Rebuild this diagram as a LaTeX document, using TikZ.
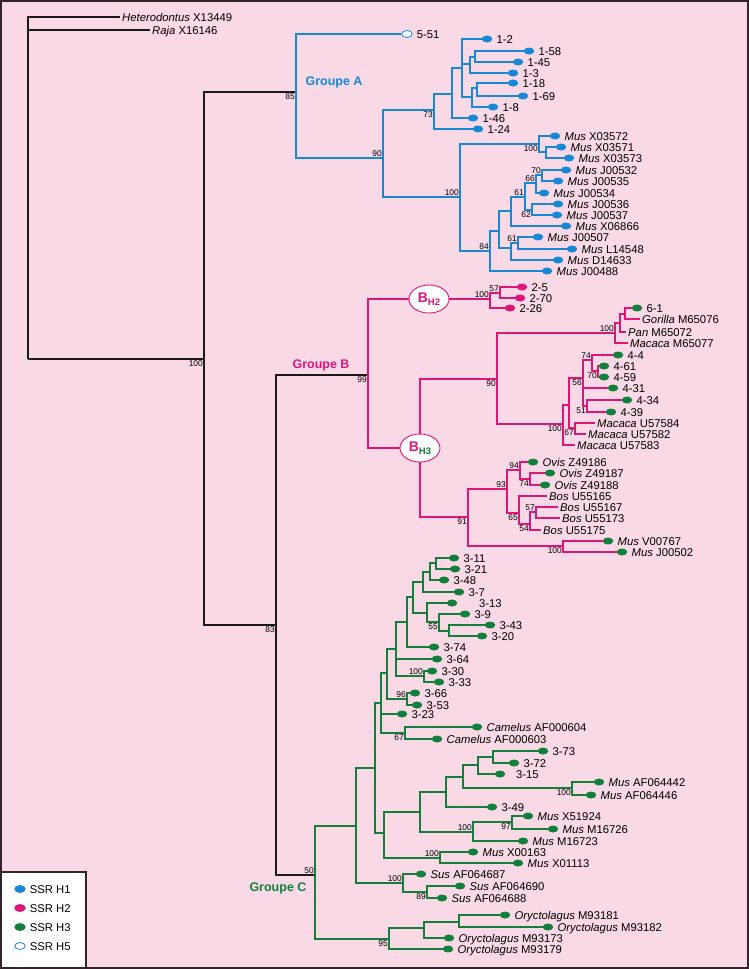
\documentclass[tikz,border=0pt]{standalone}
\usepackage{fontspec}
\setmainfont{Liberation Sans}
\usetikzlibrary{shapes.geometric}
\definecolor{bgpink}{RGB}{249,217,230}
\definecolor{cA}{RGB}{22,136,214}
\definecolor{cB}{RGB}{222,22,122}
\definecolor{cC}{RGB}{18,128,58}
\definecolor{frame}{RGB}{50,35,45}

\begin{document}
\begin{tikzpicture}[x=1pt,y=-1pt,
    lK/.style={draw=black!90, line width=1.6pt},
    lA/.style={draw=cA, line width=1.3pt},
    lB/.style={draw=cB, line width=1.3pt},
    lC/.style={draw=cC, line width=1.3pt},
    lab/.style={font=\fontsize{11.3}{12}\selectfont, inner xsep=4pt, inner ysep=0pt, text height=8.1pt, text depth=0pt},
    tl/.style={font=\fontsize{11.3}{12}\selectfont, inner xsep=2pt, inner ysep=0pt, text height=8.1pt, text depth=0pt, anchor=west},
    bs/.style={font=\fontsize{8.4}{9}\selectfont, inner sep=1pt, text height=6pt, text depth=0pt},
    bsa/.style={label={[bs]above left:#1}},
    bsb/.style={label={[bs]below left:#1}},
    dot/.style={ellipse, minimum width=10.5pt, minimum height=7pt, inner sep=0pt},
    dA/.style={dot, fill=cA, label={[lab]right:#1}},
    dB/.style={dot, fill=cB, label={[lab]right:#1}},
    dC/.style={dot, fill=cC, label={[lab]right:#1}},
    dO/.style={dot, draw=cA, fill=white, line width=.8pt, label={[lab]right:#1}},
    hbox/.style={ellipse, draw=cB, fill=white, line width=.9pt, minimum width=40pt, minimum height=28pt, inner sep=0pt},
    grp/.style={font=\fontsize{12.5}{13}\selectfont\bfseries}]

  % background and frame
  \fill[bgpink] (0,0) rectangle (749,969);
  \draw[frame, line width=2pt] (1,1) rectangle (748,968);

  % outgroups and backbone
  \node[tl] (tHet) at (120,17) {\textit{Heterodontus} X13449};
  \node[tl] (tRaja) at (150,30) {\textit{Raja} X16146};
  \coordinate (nR) at (28,359);
  \coordinate[bsb=100] (nTop) at (204,359);
  \coordinate[bsb=83] (n83) at (276,625);

  % Groupe A
  \coordinate[bsb=85] (nA) at (296,92);
  \coordinate[bsa=90] (n90) at (383,158);
  \coordinate[bsb=73] (n73) at (434,110);
  \coordinate (nA1) at (452,94);
  \coordinate (nA2) at (462,68);
  \coordinate (nA3) at (470,64);
  \coordinate (nA5) at (475,57);
  \coordinate (nA4) at (472,97);
  \coordinate (nA6) at (477,88);
  \coordinate[bsa=100] (n100A) at (460,197);
  \coordinate[bsb=100] (n100x) at (539,144);
  \coordinate (nX2) at (546,152);
  \coordinate[bsa=84] (n84) at (490,251);
  \coordinate (nV) at (499,231);
  \coordinate (nU) at (511,211);
  \coordinate[bsa=61] (n61u) at (525,197);
  \coordinate[bsa=66] (n66) at (536,183);
  \coordinate[bsa=70] (n70) at (542,175);
  \coordinate[bsb=62] (n62) at (532,210);
  \coordinate (nW) at (511,248);
  \coordinate[bsa=61] (n61b) at (518,243);

  \node[dO=5-51] (l551) at (407,34) {};
  \node[dA=1-2] (l12) at (487,39) {};
  \node[dA=1-58] (l158) at (529,51) {};
  \node[dA=1-45] (l145) at (518,62) {};
  \node[dA=1-3] (l13) at (513,73) {};
  \node[dA=1-18] (l118) at (513,83) {};
  \node[dA=1-69] (l169) at (523,96) {};
  \node[dA=1-8] (l18) at (493,107) {};
  \node[dA=1-46] (l146) at (473,118) {};
  \node[dA=1-24] (l124) at (478,129) {};
  \node[dA={\textit{Mus} X03572}] (mX03572) at (555,136) {};
  \node[dA={\textit{Mus} X03571}] (mX03571) at (561,147) {};
  \node[dA={\textit{Mus} X03573}] (mX03573) at (569,158) {};
  \node[dA={\textit{Mus} J00532}] (mJ00532) at (566,170) {};
  \node[dA={\textit{Mus} J00535}] (mJ00535) at (558,181) {};
  \node[dA={\textit{Mus} J00534}] (mJ00534) at (544,193) {};
  \node[dA={\textit{Mus} J00536}] (mJ00536) at (558,204) {};
  \node[dA={\textit{Mus} J00537}] (mJ00537) at (557,215) {};
  \node[dA={\textit{Mus} X06866}] (mX06866) at (566,226) {};
  \node[dA={\textit{Mus} J00507}] (mJ00507) at (538,237) {};
  \node[dA={\textit{Mus} L14548}] (mL14548) at (572,249) {};
  \node[dA={\textit{Mus} D14633}] (mD14633) at (558,260) {};
  \node[dA={\textit{Mus} J00488}] (mJ00488) at (547,271) {};

  % Groupe B
  \coordinate[bsb=99] (nB) at (368,375);
  \node[hbox] (bh2) at (429,299) {\fontsize{14}{14}\selectfont\bfseries\color{cB}B\raisebox{-3.5pt}{\fontsize{9.5}{9.5}\selectfont H2}};
  \node[hbox] (bh3) at (420,448) {\fontsize{14}{14}\selectfont\bfseries\color{cB}B\raisebox{-3.5pt}{\fontsize{9.5}{9.5}\selectfont\color{cC}H3}};
  \coordinate[bsa=100] (n2) at (490,299);
  \coordinate[bsa=57] (n57) at (500,293);
  \coordinate[bsb=90] (nB90) at (497,379);
  \coordinate[bsa=100] (nP1) at (615,333);
  \coordinate (nP2) at (620,323);
  \coordinate (nP3) at (625,314);
  \coordinate[bsb=100] (n100m) at (563,424);
  \coordinate (nQ) at (569,405);
  \coordinate[bsb=56] (n56) at (583,378);
  \coordinate[bsa=74] (n74) at (592,360);
  \coordinate[bsb=70] (n70b) at (598,371);
  \coordinate[bsb=51] (n51) at (587,406);
  \coordinate[bsb=67] (n67) at (575,428);
  \coordinate[bsb=91] (n91) at (468,517);
  \coordinate[bsa=93] (n93) at (507,489);
  \coordinate[bsa=94] (n94) at (520,470);
  \coordinate[bsb=74] (n74o) at (530,479);
  \coordinate[bsb=65] (n65) at (519,513);
  \coordinate[bsb=54] (n54) at (530,524);
  \coordinate[bsa=57] (n57b) at (536,512);
  \coordinate[bsb=100] (n100v) at (563,546);

  \node[dB=2-5] (l25) at (522,287) {};
  \node[dB=2-70] (l270) at (520,298) {};
  \node[dB=2-26] (l226) at (510,308) {};
  \node[dC=6-1] (l61) at (637,308) {};
  \node[tl] (tGor) at (640,319) {\textit{Gorilla} M65076};
  \node[tl] (tPan) at (626,332) {\textit{Pan} M65072};
  \node[tl] (tM77) at (628,343) {\textit{Macaca} M65077};
  \node[dC=4-4] (l44) at (618,355) {};
  \node[dC=4-61] (l461) at (604,366) {};
  \node[dC=4-59] (l459) at (604,377) {};
  \node[dC=4-31] (l431) at (613,388) {};
  \node[dC=4-34] (l434) at (627,400) {};
  \node[dC=4-39] (l439) at (611,412) {};
  \node[tl] (tU84) at (595,423) {\textit{Macaca} U57584};
  \node[tl] (tU82) at (586,434) {\textit{Macaca} U57582};
  \node[tl] (tU83) at (575,445) {\textit{Macaca} U57583};
  \node[dC={\textit{Ovis} Z49186}] (oZ86) at (533,462) {};
  \node[dC={\textit{Ovis} Z49187}] (oZ87) at (550,473) {};
  \node[dC={\textit{Ovis} Z49188}] (oZ88) at (545,485) {};
  \node[tl] (tB65) at (547,496) {\textit{Bos} U55165};
  \node[tl] (tB67) at (558,507) {\textit{Bos} U55167};
  \node[tl] (tB73) at (560,518) {\textit{Bos} U55173};
  \node[tl] (tB75) at (541,530) {\textit{Bos} U55175};
  \node[dC={\textit{Mus} V00767}] (mV00767) at (608,541) {};
  \node[dC={\textit{Mus} J00502}] (mJ00502) at (622,552) {};

  % Groupe C
  \coordinate[bsa=50] (nC) at (315,875);
  \coordinate (n356) at (356,826);
  \coordinate (n375) at (375,768);
  \coordinate (n381) at (381,703);
  \coordinate (n387) at (387,673);
  \coordinate (n396) at (396,649);
  \coordinate (n407) at (407,622);
  \coordinate (n413) at (413,597);
  \coordinate (n423) at (423,582);
  \coordinate (n430) at (430,572);
  \coordinate (n436) at (436,563);
  \coordinate (n427) at (427,613);
  \coordinate[bsb=55] (n439) at (439,622);
  \coordinate (n449) at (449,631);
  \coordinate[bsa=100] (n100c) at (424,676);
  \coordinate[bsa=96] (n96) at (407,699);
  \coordinate[bsb=67] (n67c) at (405,733);
  \coordinate (n384) at (384,833);
  \coordinate (n420) at (420,812);
  \coordinate (n446) at (446,792);
  \coordinate (n463) at (463,777);
  \coordinate (n478) at (478,765);
  \coordinate (n493) at (493,757);
  \coordinate[bsb=100] (n100e) at (572,788);
  \coordinate[bsa=100] (n100f) at (473,832);
  \coordinate[bsb=97] (n97) at (512,822);
  \coordinate[bsa=100] (n100g) at (440,858);
  \coordinate[bsa=100] (n100s) at (403,883);
  \coordinate[bsb=89] (n89) at (427,892);
  \coordinate[bsb=95] (n95) at (389,939);
  \coordinate (nO1) at (424,928);
  \coordinate (nO2) at (459,922);

  \node[dC=3-11] (c311) at (454,558) {};
  \node[dC=3-21] (c321) at (455,569) {};
  \node[dC=3-48] (c348) at (444,580) {};
  \node[dC=3-7] (c37) at (459,592) {};
  \node[dot, fill=cC, label={[lab, xshift=17.5pt]right:3-13}] (c313) at (452,603) {};
  \node[dC=3-9] (c39) at (465,614) {};
  \node[dC=3-43] (c343) at (490,625) {};
  \node[dC=3-20] (c320) at (482,636) {};
  \node[dC=3-74] (c374) at (434,647) {};
  \node[dC=3-64] (c364) at (437,659) {};
  \node[dC=3-30] (c330) at (432,671) {};
  \node[dC=3-33] (c333) at (439,682) {};
  \node[dC=3-66] (c366) at (415,693) {};
  \node[dC=3-53] (c353) at (417,705) {};
  \node[dC=3-23] (c323) at (402,714) {};
  \node[dC={\textit{Camelus} AF000604}] (cam04) at (477,727) {};
  \node[dC={\textit{Camelus} AF000603}] (cam03) at (437,739) {};
  \node[dC=3-73] (c373) at (543,751) {};
  \node[dC=3-72] (c372) at (514,763) {};
  \node[dot, fill=cC, label={[lab, xshift=6.5pt]right:3-15}] (c315) at (500,774) {};
  \node[dC={\textit{Mus} AF064442}] (mAF42) at (599,782) {};
  \node[dC={\textit{Mus} AF064446}] (mAF46) at (591,795) {};
  \node[dC=3-49] (c349) at (492,807) {};
  \node[dC={\textit{Mus} X51924}] (mX51924) at (528,816) {};
  \node[dC={\textit{Mus} M16726}] (mM16726) at (553,829) {};
  \node[dC={\textit{Mus} M16723}] (mM16723) at (523,841) {};
  \node[dC={\textit{Mus} X00163}] (mX00163) at (473,852) {};
  \node[dC={\textit{Mus} X01113}] (mX01113) at (518,863) {};
  \node[dC={\textit{Sus} AF064687}] (sus87) at (421,874) {};
  \node[dC={\textit{Sus} AF064690}] (sus90) at (460,886) {};
  \node[dC={\textit{Sus} AF064688}] (sus88) at (442,898) {};
  \node[dC={\textit{Oryctolagus} M93181}] (or81) at (505,915) {};
  \node[dC={\textit{Oryctolagus} M93182}] (or82) at (548,927) {};
  \node[dC={\textit{Oryctolagus} M93173}] (or73) at (449,938) {};
  \node[dC={\textit{Oryctolagus} M93179}] (or79) at (448,949) {};

  % branches
  \foreach \p/\c in {nR/tHet, nR/tRaja, nR/nTop, nTop/nA, nTop/n83, n83/nB, n83/nC}
    \draw[lK] (\p) |- (\c);
  \foreach \p/\c in {nA/l551, nA/n90, n90/n73, n90/n100A, n73/nA1, n73/l124,
      nA1/nA2, nA1/l146, nA2/l12, nA2/nA3, nA2/nA4, nA3/nA5, nA3/l13,
      nA5/l158, nA5/l145, nA4/nA6, nA4/l18, nA6/l118, nA6/l169,
      n100A/n100x, n100A/n84, n100x/mX03572, n100x/nX2, nX2/mX03571, nX2/mX03573,
      n84/nV, n84/mJ00488, nV/nU, nV/nW, nU/n61u, nU/mX06866, n61u/n66, n61u/n62,
      n66/n70, n66/mJ00534, n70/mJ00532, n70/mJ00535, n62/mJ00536, n62/mJ00537,
      nW/n61b, nW/mD14633, n61b/mJ00507, n61b/mL14548}
    \draw[lA] (\p) |- (\c);
  \draw[lB] (bh2) -- (n2);
  \foreach \p/\c in {nB/bh2, nB/bh3, bh3/nB90, bh3/n91, n2/n57, n2/l226, n57/l25, n57/l270,
      nB90/nP1, nB90/n100m, nP1/nP2, nP1/tM77, nP2/nP3, nP2/tPan, nP3/l61, nP3/tGor,
      n100m/nQ, n100m/tU83, nQ/n56, nQ/n67, n56/n74, n56/l431, n56/n51,
      n74/l44, n74/n70b, n70b/l461, n70b/l459, n51/l434, n51/l439, n67/tU84, n67/tU82,
      n91/n93, n91/n100v, n93/n94, n93/n65, n94/oZ86, n94/n74o, n74o/oZ87, n74o/oZ88,
      n65/tB65, n65/n54, n54/n57b, n54/tB75, n57b/tB67, n57b/tB73,
      n100v/mV00767, n100v/mJ00502}
    \draw[lB] (\p) |- (\c);
  \foreach \p/\c in {nC/n356, nC/n95, n356/n375, n356/n100s, n375/n381, n375/n384,
      n381/n387, n381/c323, n381/n67c, n387/n396, n387/n96, n396/n407, n396/c364, n396/n100c,
      n407/n413, n407/c374, n413/n423, n413/n427, n423/n430, n423/c37, n430/n436, n430/c348,
      n436/c311, n436/c321, n427/c313, n427/n439, n439/c39, n439/n449, n449/c343, n449/c320,
      n100c/c330, n100c/c333, n96/c366, n96/c353, n67c/cam04, n67c/cam03,
      n384/n420, n384/n100g, n420/n446, n420/n100f, n446/n463, n446/c349,
      n463/n478, n463/n100e, n478/n493, n478/c315, n493/c373, n493/c372,
      n100e/mAF42, n100e/mAF46, n100f/n97, n100f/mM16723, n97/mX51924, n97/mM16726,
      n100g/mX00163, n100g/mX01113, n100s/sus87, n100s/n89, n89/sus90, n89/sus88,
      n95/nO1, n95/or79, nO1/nO2, nO1/or73, nO2/or81, nO2/or82}
    \draw[lC] (\p) |- (\c);

  % group names
  \node[grp, text=cA, anchor=west] (gA) at (302,82) {Groupe A};
  \node[grp, text=cB, anchor=west] (gB) at (289,365) {Groupe B};
  \node[grp, text=cC, anchor=east] (gC) at (310,888) {Groupe C};

  % legend
  \draw[frame, fill=white, line width=1.5pt] (1,872) rectangle (86,968);
  \foreach \f/\d/\t [count=\i] in {cA/cA/H1, cB/cB/H2, cC/cC/H3, white/cA/H5}
    \node[dot, fill=\f, draw=\d, line width=.8pt, label={[lab]right:SSR \t}] (key\i) at (20,870+19*\i) {};
\end{tikzpicture}
\end{document}
